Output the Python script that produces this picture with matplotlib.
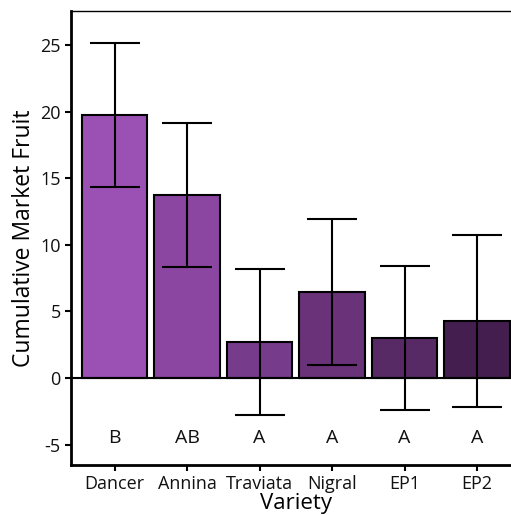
import numpy as np
import matplotlib
matplotlib.use('Agg')
import matplotlib.pyplot as plt

# Data
varieties = ['Dancer', 'Annina', 'Traviata', 'Nigral', 'EP1', 'EP2']
means = [19.75, 13.75, 2.7, 6.45, 3.0, 4.3]
errors = [5.4, 5.4, 5.45, 5.45, 5.4, 6.45]
letters = ['B', 'AB', 'A', 'A', 'A', 'A']
colors = ['#9b51b3', '#8a46a0', '#763b8b', '#693279', '#572a66', '#451e50']

plt.rcParams['font.family'] = ['Open Sans', 'DejaVu Sans']

fig = plt.figure(figsize=(5.11, 5.15), dpi=100)
ax = fig.add_axes([71 / 511, 50 / 515, 449.5 / 511, 454 / 515])

x = np.arange(len(varieties))
ax.bar(x, means, width=0.9, color=colors, edgecolor='black', linewidth=1.5, zorder=2)
ax.errorbar(x, means, yerr=errors, fmt='none', ecolor='black', elinewidth=1.5,
            capsize=18, capthick=1.5, zorder=3)
ax.axhline(0, color='black', linewidth=1.5, zorder=4)

# significance letters under each bar
for xi, lab in zip(x, letters):
    ax.text(xi, -4.5, lab, ha='center', va='center', fontsize=14, color='#111111')

ax.set_xlim(-0.6, len(varieties) - 0.4)
ax.set_ylim(-6.53, 27.55)
ax.set_yticks([-5, 0, 5, 10, 15, 20, 25])
ax.set_yticklabels(['-5', '0', '5', '10', '15', '20', '25'])
ax.set_xticks(x)
ax.set_xticklabels(varieties)
ax.tick_params(axis='both', labelsize=13, width=1.5, length=4, color='black',
               labelcolor='#111111')
ax.spines['left'].set_linewidth(2)
ax.spines['bottom'].set_linewidth(2)
ax.spines['top'].set_linewidth(1)
ax.spines['right'].set_visible(False)

ax.set_xlabel('Variety', fontsize=16, labelpad=0)
ax.set_ylabel('Cumulative Market Fruit', fontsize=16.5, labelpad=3)

fig.savefig('out.png', dpi=100)
